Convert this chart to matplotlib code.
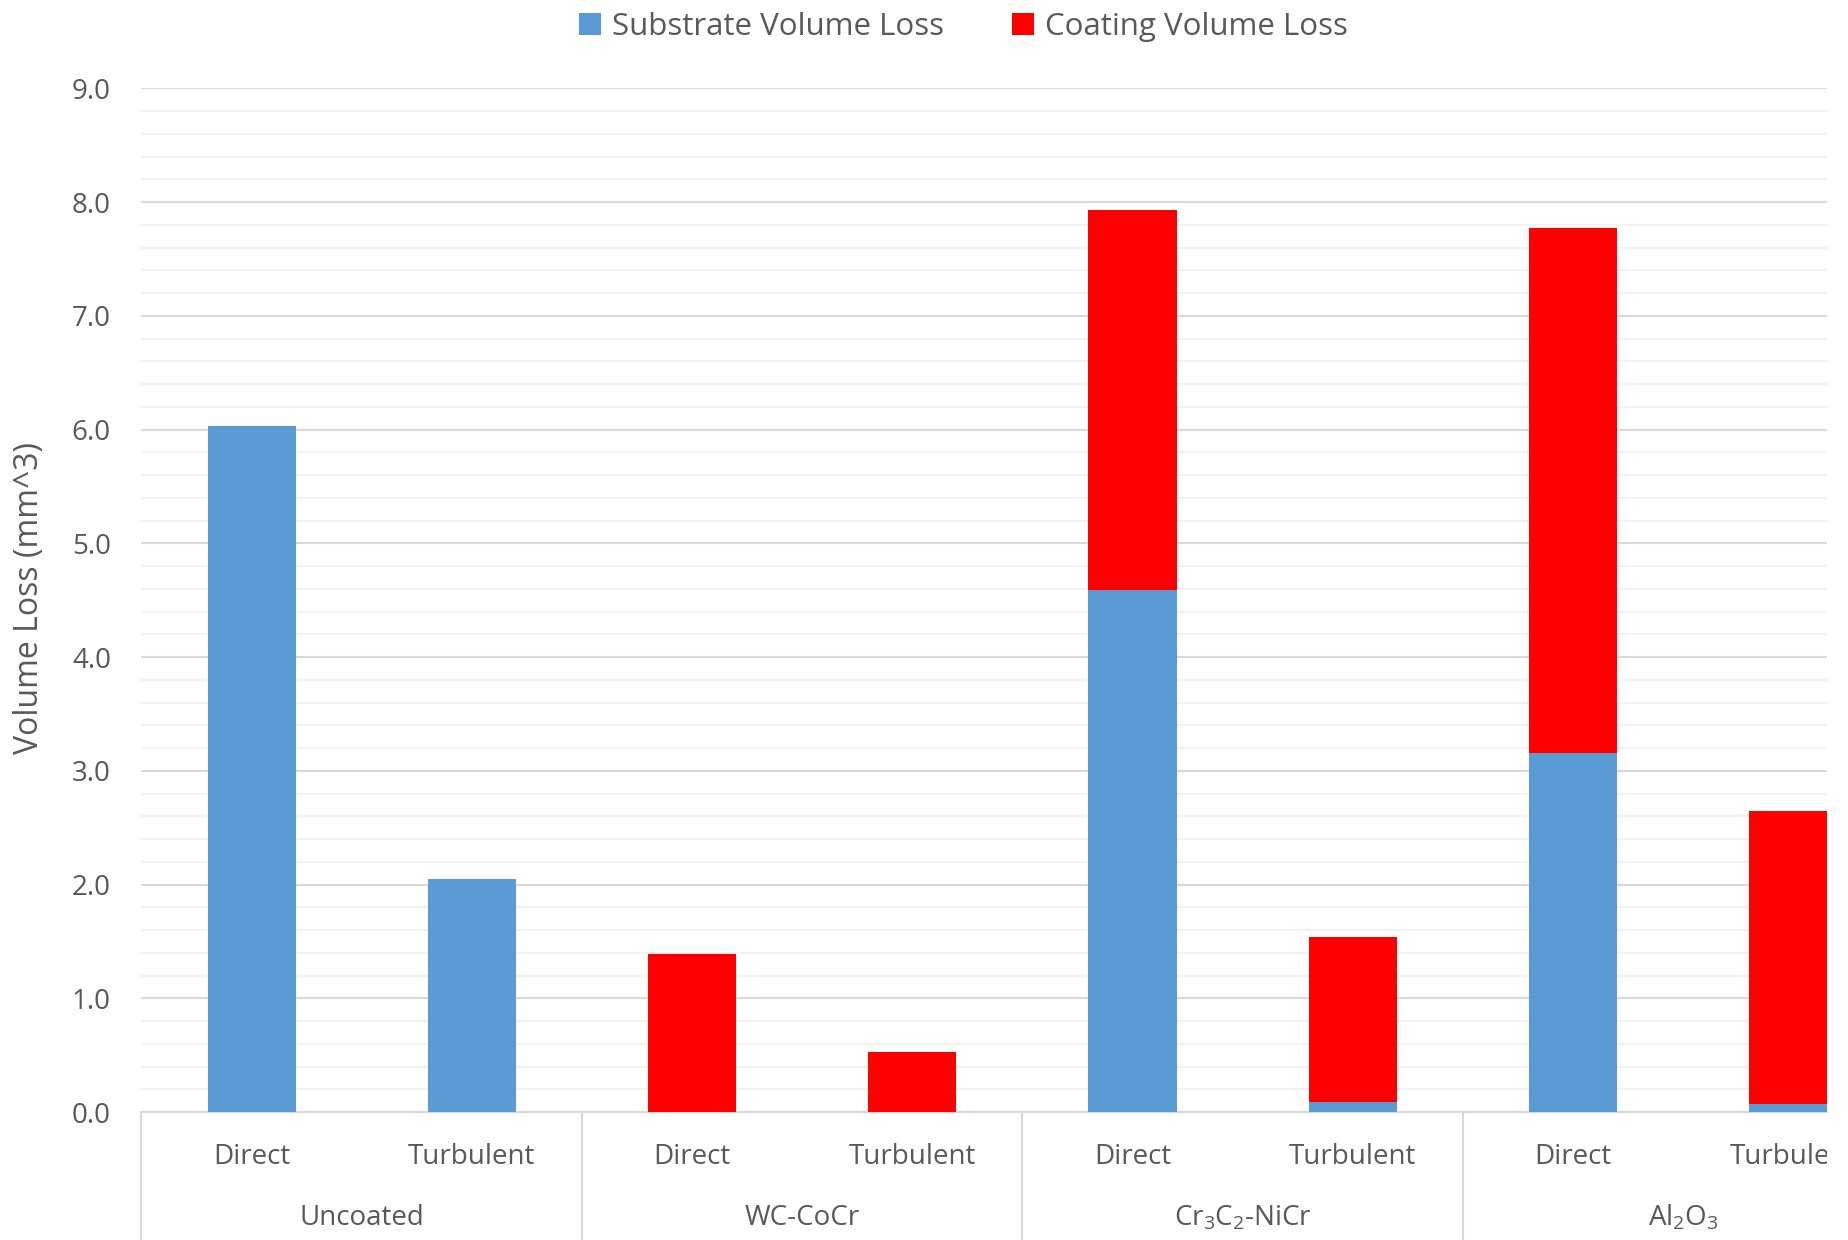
import matplotlib
matplotlib.use("Agg")
import matplotlib.pyplot as plt
from matplotlib.patches import Patch
from matplotlib.lines import Line2D
from matplotlib.transforms import blended_transform_factory, Bbox, TransformedBbox
import numpy as np

plt.rcParams["font.family"] = ["Open Sans", "DejaVu Sans"]
plt.rcParams["mathtext.fontset"] = "custom"
plt.rcParams["mathtext.rm"] = "Open Sans"
plt.rcParams["mathtext.it"] = "Open Sans"

# Data
groups = ["Uncoated", "WC-CoCr", r"Cr$_{3}$C$_{2}$-NiCr", r"Al$_{2}$O$_{3}$"]
conditions = ["Direct", "Turbulent"]
substrate_loss = [6.03, 2.05, 0.0, 0.0, 4.59, 0.09, 3.16, 0.07]
coating_loss = [0.0, 0.0, 1.39, 0.53, 3.34, 1.45, 4.61, 2.58]
series_names = ["Substrate Volume Loss", "Coating Volume Loss"]
y_label = "Volume Loss (mm^3)"

BLUE = "#5B9BD5"
RED = "#FF0000"
TXT = "#595959"
GRID = "#D9D9D9"
FS = 20

fig = plt.figure(figsize=(18.49, 12.40), dpi=100)
AX_L, AX_B, AX_W, AX_H = 0.0765, 0.1032, 0.9114, 0.8255
ax = fig.add_axes([AX_L, AX_B, AX_W, AX_H])

x = np.arange(len(substrate_loss))
ax.bar(x, substrate_loss, width=0.4, color=BLUE, zorder=3)
ax.bar(x, coating_loss, width=0.4, bottom=substrate_loss, color=RED, zorder=3)

ax.set_ylim(0, 9)
ax.set_xlim(-0.5, 7.152)
major = np.arange(0, 9.01, 1.0)
ax.set_yticks(major)
ax.set_yticklabels([f"{v:.1f}" for v in major])
ax.set_yticks(np.arange(0, 9.01, 0.2), minor=True)
ax.grid(axis="y", which="major", color=GRID, linewidth=1.5, zorder=0)
ax.grid(axis="y", which="minor", color="#F2F2F2", linewidth=1.5, zorder=0)
ax.tick_params(axis="y", which="both", length=0, labelsize=FS, labelcolor=TXT, pad=22)

for s in ["top", "right", "left"]:
    ax.spines[s].set_visible(False)
ax.spines["bottom"].set_color(GRID)
ax.spines["bottom"].set_linewidth(1.5)
ax.set_xticks([])

fig.text(29.5 / 1849, 0.5177, y_label, rotation=90, ha="center", va="center",
         fontsize=23, color=TXT)

# Two-level category axis: conditions, then coating groups, with separators
tr = blended_transform_factory(ax.transData, fig.transFigure)
clip = TransformedBbox(Bbox([[0, 0], [AX_L + AX_W, 1]]), fig.transFigure)
for i, xi in enumerate(x):
    t = ax.text(xi, 0.0672, conditions[i % 2], transform=tr, ha="center", va="center",
                fontsize=FS, color=TXT)
    t.set_clip_box(clip)
    t.set_clip_on(True)
for i, g in enumerate(groups):
    ax.text(2 * i + 0.5, 0.0178, g, transform=tr, ha="center", va="center",
            fontsize=FS, color=TXT, clip_on=False)
for b in [-0.5, 1.5, 3.5, 5.5]:
    ax.add_line(Line2D([b, b], [AX_B, 0.0], transform=tr, color=GRID,
                       linewidth=1.5, clip_on=False))

handles = [Patch(facecolor=BLUE, edgecolor="none"), Patch(facecolor=RED, edgecolor="none")]
fig.legend(handles, series_names, loc="center", bbox_to_anchor=(0.521, 0.978), ncol=2,
           frameon=False, fontsize=22.5, labelcolor=TXT, handlelength=0.7, handleheight=0.7,
           handletextpad=0.35, columnspacing=2.2)

fig.savefig("out.png", dpi=100, facecolor="white")
